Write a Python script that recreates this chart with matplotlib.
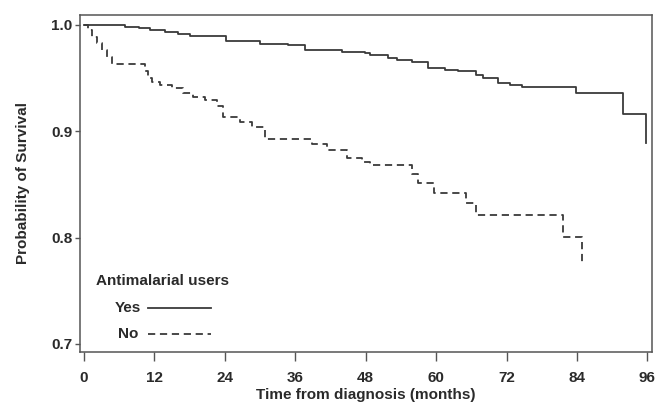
import matplotlib
matplotlib.use("Agg")
import matplotlib.pyplot as plt

# Kaplan-Meier estimates (months, survival probability)
yes_t = [0, 7.0, 9.4, 11.3, 13.8, 16.0, 18.0, 24.2, 24.9, 30.0, 34.8, 37.6,
         44.0, 47.9, 48.7, 51.8, 53.3, 55.9, 58.6, 61.5, 63.7, 66.8, 68.0,
         70.5, 72.6, 74.6, 83.8, 91.8, 95.7]
yes_s = [1.000, 0.9984, 0.9972, 0.9953, 0.9934, 0.9915, 0.9897, 0.9852,
         0.9845, 0.9821, 0.9812, 0.9765, 0.9749, 0.9737, 0.9718, 0.9693,
         0.9671, 0.9652, 0.9595, 0.9577, 0.9563, 0.9530, 0.9501, 0.9454,
         0.9436, 0.9414, 0.9357, 0.9163, 0.8893]

no_t = [0, 0.7, 1.4, 2.2, 3.1, 3.9, 4.8, 10.4, 10.9, 11.6, 12.9, 15.0, 16.9,
        18.6, 20.6, 22.7, 23.7, 26.6, 28.6, 30.8, 38.8, 41.4, 44.8, 47.4,
        48.7, 55.9, 56.9, 59.6, 65.1, 66.8, 81.6, 84.8]
no_s = [1.000, 0.9953, 0.9887, 0.9831, 0.9765, 0.9699, 0.9633, 0.9567,
        0.9501, 0.9464, 0.9436, 0.9407, 0.9360, 0.9323, 0.9294, 0.9238,
        0.9135, 0.9087, 0.9040, 0.8928, 0.8881, 0.8824, 0.8749, 0.8711,
        0.8683, 0.8598, 0.8514, 0.8420, 0.8325, 0.8213, 0.8006, 0.7770]

x_ticks = [0, 12, 24, 36, 48, 60, 72, 84, 96]
y_ticks = [0.7, 0.8, 0.9, 1.0]

INK = "#3a3a3a"
TXT = "#2a2a2a"
FS = 11
plt.rcParams["font.family"] = ["Liberation Sans", "DejaVu Sans"]
plt.rcParams["font.weight"] = "bold"

fig = plt.figure(figsize=(6.65, 4.03), dpi=100)
ax = fig.add_axes([0.1203, 0.1266, 0.8602, 0.8362])

ax.plot(yes_t, yes_s, drawstyle="steps-post", color=INK, lw=1.3)
ax.plot(no_t, no_s, drawstyle="steps-post", color=INK, lw=1.3, dashes=(4, 2.6))

ax.set_xlim(-0.68, 96.8)
ax.set_ylim(0.6924, 1.0094)
ax.set_xticks(x_ticks)
ax.set_yticks(y_ticks)
ax.set_yticklabels([f"{v:.1f}" for v in y_ticks])
ax.tick_params(direction="out", width=1, color="#555555",
               labelsize=FS, labelcolor=TXT)
ax.tick_params(axis="x", length=6.5, pad=7)
ax.tick_params(axis="y", length=3.5, pad=2)
for s in ax.spines.values():
    s.set_color("#555555")
    s.set_linewidth(1.1)

ax.set_xlabel("Time from diagnosis (months)", fontsize=FS, color=TXT,
              fontweight="bold", labelpad=2)
ax.set_ylabel("Probability of Survival", fontsize=FS, color=TXT,
              fontweight="bold", labelpad=15)

# legend drawn by hand to match the original layout
ax.text(0.028, 0.211, "Antimalarial users", transform=ax.transAxes,
        fontsize=FS, fontweight="bold", color=TXT, va="center", ha="left")
ax.text(0.084, 0.131, "Yes", transform=ax.transAxes, fontsize=FS,
        fontweight="bold", color=TXT, va="center", ha="center")
ax.text(0.084, 0.054, "No", transform=ax.transAxes, fontsize=FS,
        fontweight="bold", color=TXT, va="center", ha="center")
ax.plot([0.119, 0.229], [0.131, 0.131], transform=ax.transAxes, color=INK, lw=1.3)
ax.plot([0.119, 0.229], [0.054, 0.054], transform=ax.transAxes, color=INK,
        lw=1.3, dashes=(4, 2.6))

fig.savefig("out.png", dpi=100)
